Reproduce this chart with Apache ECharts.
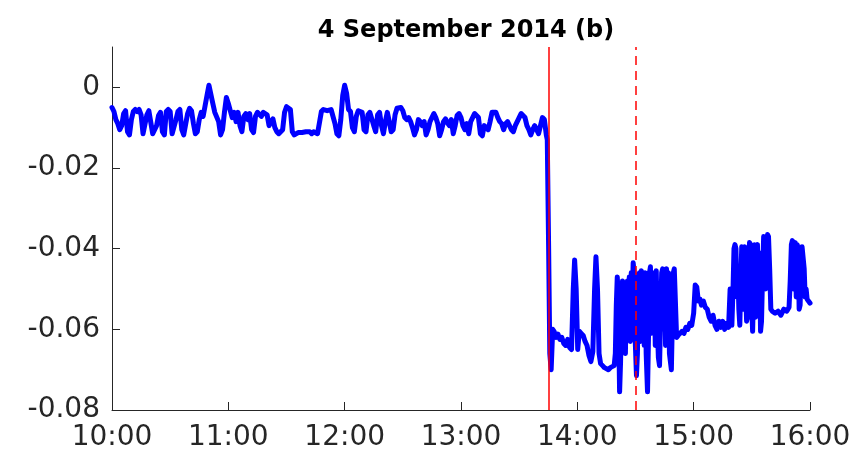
<!DOCTYPE html>
<html>
<head>
<meta charset="utf-8">
<script src="https://cdn.jsdelivr.net/npm/echarts@6/dist/echarts.min.js"></script>
<style>
  html, body { margin: 0; padding: 0; background: #ffffff; }
  #chart { width: 856px; height: 452px; }
</style>
</head>
<body>
<div id="chart"></div>
<script>
// Signal recorded on 4 September 2014, 10:00 to 16:00.
// Time is given in minutes after 10:00.
const minutes = [
  0, 1, 2, 3, 4, 5, 6, 7, 8, 9, 10, 11, 12, 13, 14, 15, 16, 17, 18, 19,
  20, 21, 22, 23, 24, 25, 26, 27, 28, 29, 30, 31, 32, 33, 34, 35, 36, 37, 38, 39,
  40, 41, 42, 43, 44, 45, 46, 47, 48, 49, 50, 51, 52, 53, 54, 55, 56, 57, 58, 59,
  60, 61, 62, 63, 64, 65, 66, 67, 68, 69, 70, 71, 72, 73, 74, 75, 76, 77, 78, 79,
  80, 81, 82, 83, 84, 85, 86, 87, 88, 89, 90, 91, 92, 93, 94, 95, 96, 97, 98, 99,
  100, 101, 102, 103, 104, 105, 106, 107, 108, 109, 110, 111, 112, 113, 114, 115, 116, 117, 118, 119,
  120, 121, 122, 123, 124, 125, 126, 127, 128, 129, 130, 131, 132, 133, 134, 135, 136, 137, 138, 139,
  140, 141, 142, 143, 144, 145, 146, 147, 148, 149, 150, 151, 152, 153, 154, 155, 156, 157, 158, 159,
  160, 161, 162, 163, 164, 165, 166, 167, 168, 169, 170, 171, 172, 173, 174, 175, 176, 177, 178, 179,
  180, 181, 182, 183, 184, 185, 186, 187, 188, 189, 190, 191, 192, 193, 194, 195, 196, 197, 198, 199,
  200, 201, 202, 203, 204, 205, 206, 207, 208, 209, 210, 211, 212, 213, 214, 215, 216, 217, 218, 219,
  220, 221, 222, 223, 224, 224.5, 225.2, 225.8, 226.5, 227.3, 228, 229, 230, 231, 232, 233, 234, 235, 236, 237,
  237.9, 238.6, 239.4, 240.2, 241, 242, 243, 244, 245, 246, 247, 248, 248.9, 249.6, 250.4, 251.2, 252, 253, 254, 255,
  256, 257, 258, 259, 259.6, 260.1, 260.6, 261.1, 261.8, 262.3, 262.8, 263.3, 263.8, 264.3, 264.8, 265.3, 265.8, 266.3, 266.8, 267.3,
  267.8, 268.3, 268.8, 269.3, 269.8, 270.5, 271, 271.5, 272, 272.5, 273, 273.5, 274, 274.5, 275, 275.5, 276.2, 276.7, 277.2, 277.7,
  278.2, 278.7, 279.2, 279.7, 280.2, 280.7, 281.2, 281.8, 282.4, 283, 283.5, 284, 284.5, 285, 285.5, 286, 286.5, 287, 287.5, 288.5,
  289, 289.5, 290, 290.5, 291.2, 292, 293, 294, 295, 296, 297, 298, 299, 300, 300.8, 301.6, 302.4, 303.2, 304, 305,
  306, 307, 308, 309, 310, 311, 312, 313, 314, 315, 316, 317, 318, 318.8, 319.3, 319.7, 320.3, 320.8, 321.3, 321.8,
  322.3, 322.8, 323.3, 323.8, 324.3, 324.8, 325.3, 325.8, 326.3, 326.8, 327.3, 327.8, 328.3, 328.8, 329.3, 329.8, 330.4, 330.9, 331.4, 331.9,
  332.4, 332.9, 333.4, 333.9, 334.5, 335, 335.6, 336.1, 336.6, 337.1, 337.6, 338.1, 338.6, 339.2, 339.8, 340.5, 342, 343.5, 345, 346.5,
  348, 349.2, 349.8, 350.4, 350.9, 351.4, 351.9, 352.4, 352.9, 353.4, 353.9, 354.4, 354.9, 355.4, 355.9, 356.4, 357, 357.5, 358, 358.5,
  359.2, 360
];

const values = [
  -0.0050, -0.0060, -0.0080, -0.0090, -0.0105, -0.0095, -0.0065, -0.0058, -0.0110, -0.0118, -0.0080, -0.0060, -0.0055, -0.0060, -0.0055, -0.0068, -0.0115, -0.0118, -0.0068, -0.0058,
  -0.0055, -0.0115, -0.0118, -0.0095, -0.0070, -0.0062, -0.0110, -0.0118, -0.0060, -0.0055, -0.0060, -0.0115, -0.0118, -0.0080, -0.0060, -0.0055, -0.0105, -0.0118, -0.0115, -0.0065,
  -0.0052, -0.0058, -0.0090, -0.0115, -0.0110, -0.0080, -0.0062, -0.0072, -0.0068, -0.0020, 0.0005, 0.0002, -0.0040, -0.0062, -0.0058, -0.0085, -0.0118, -0.0105, -0.0062, -0.0025,
  -0.0040, -0.0058, -0.0075, -0.0062, -0.0085, -0.0062, -0.0095, -0.0110, -0.0072, -0.0065, -0.0080, -0.0065, -0.0105, -0.0112, -0.0072, -0.0062, -0.0065, -0.0072, -0.0062, -0.0060,
  -0.0068, -0.0095, -0.0085, -0.0078, -0.0100, -0.0110, -0.0115, -0.0112, -0.0105, -0.0062, -0.0048, -0.0048, -0.0055, -0.0110, -0.0118, -0.0118, -0.0112, -0.0115, -0.0112, -0.0108,
  -0.0110, -0.0112, -0.0110, -0.0115, -0.0110, -0.0112, -0.0115, -0.0112, -0.0060, -0.0055, -0.0055, -0.0058, -0.0055, -0.0055, -0.0058, -0.0090, -0.0115, -0.0120, -0.0080, -0.0020,
  0.0005, -0.0015, -0.0055, -0.0060, -0.0100, -0.0110, -0.0072, -0.0058, -0.0058, -0.0062, -0.0105, -0.0110, -0.0068, -0.0062, -0.0065, -0.0095, -0.0110, -0.0068, -0.0062, -0.0095,
  -0.0115, -0.0085, -0.0062, -0.0085, -0.0110, -0.0105, -0.0068, -0.0052, -0.0048, -0.0050, -0.0058, -0.0075, -0.0080, -0.0075, -0.0085, -0.0100, -0.0118, -0.0105, -0.0080, -0.0085,
  -0.0095, -0.0085, -0.0118, -0.0105, -0.0085, -0.0075, -0.0065, -0.0075, -0.0090, -0.0120, -0.0105, -0.0085, -0.0078, -0.0088, -0.0095, -0.0080, -0.0115, -0.0095, -0.0070, -0.0065,
  -0.0075, -0.0095, -0.0105, -0.0090, -0.0115, -0.0085, -0.0075, -0.0065, -0.0062, -0.0075, -0.0115, -0.0120, -0.0095, -0.0095, -0.0105, -0.0085, -0.0062, -0.0058, -0.0062, -0.0075,
  -0.0085, -0.0090, -0.0105, -0.0090, -0.0085, -0.0095, -0.0105, -0.0110, -0.0095, -0.0085, -0.0075, -0.0065, -0.0062, -0.0075, -0.0095, -0.0105, -0.0118, -0.0105, -0.0095, -0.0105,
  -0.0115, -0.0095, -0.0075, -0.0080, -0.0118, -0.0130, -0.0400, -0.0660, -0.0700, -0.0600, -0.0605, -0.0620, -0.0612, -0.0625, -0.0620, -0.0635, -0.0640, -0.0625, -0.0645, -0.0650,
  -0.0500, -0.0428, -0.0500, -0.0650, -0.0605, -0.0610, -0.0615, -0.0630, -0.0640, -0.0665, -0.0680, -0.0655, -0.0500, -0.0420, -0.0500, -0.0660, -0.0685, -0.0690, -0.0695, -0.0695,
  -0.0700, -0.0695, -0.0695, -0.0690, -0.0660, -0.0540, -0.0470, -0.0520, -0.0755, -0.0680, -0.0560, -0.0480, -0.0490, -0.0630, -0.0660, -0.0500, -0.0480, -0.0590, -0.0470, -0.0630,
  -0.0460, -0.0530, -0.0435, -0.0460, -0.0620, -0.0715, -0.0660, -0.0470, -0.0460, -0.0630, -0.0455, -0.0580, -0.0460, -0.0640, -0.0460, -0.0660, -0.0755, -0.0620, -0.0460, -0.0445,
  -0.0610, -0.0470, -0.0600, -0.0460, -0.0640, -0.0455, -0.0580, -0.0670, -0.0690, -0.0560, -0.0460, -0.0450, -0.0600, -0.0460, -0.0640, -0.0450, -0.0620, -0.0460, -0.0660, -0.0700,
  -0.0580, -0.0460, -0.0450, -0.0520, -0.0620, -0.0615, -0.0610, -0.0605, -0.0610, -0.0595, -0.0600, -0.0585, -0.0590, -0.0560, -0.0490, -0.0495, -0.0530, -0.0525, -0.0540, -0.0530,
  -0.0545, -0.0550, -0.0570, -0.0580, -0.0565, -0.0590, -0.0600, -0.0580, -0.0595, -0.0580, -0.0600, -0.0585, -0.0595, -0.0500, -0.0505, -0.0590, -0.0500, -0.0400, -0.0390, -0.0400,
  -0.0520, -0.0450, -0.0550, -0.0590, -0.0480, -0.0395, -0.0400, -0.0550, -0.0395, -0.0500, -0.0580, -0.0570, -0.0450, -0.0385, -0.0390, -0.0520, -0.0605, -0.0500, -0.0390, -0.0570,
  -0.0400, -0.0390, -0.0550, -0.0410, -0.0605, -0.0580, -0.0450, -0.0370, -0.0375, -0.0500, -0.0400, -0.0365, -0.0370, -0.0450, -0.0550, -0.0555, -0.0560, -0.0555, -0.0565, -0.0550,
  -0.0555, -0.0545, -0.0480, -0.0390, -0.0380, -0.0500, -0.0400, -0.0385, -0.0520, -0.0390, -0.0400, -0.0550, -0.0540, -0.0450, -0.0395, -0.0395, -0.0450, -0.0520, -0.0500, -0.0525,
  -0.0530, -0.0535
];

// Axis ticks and labels
const xTickMinutes = [0, 60, 120, 180, 240, 300, 360];
const xTickLabels = ['10:00', '11:00', '12:00', '13:00', '14:00', '15:00', '16:00'];
const yTickValues = [-0.08, -0.06, -0.04, -0.02, 0];
const yTickLabels = ['-0.08', '-0.06', '-0.04', '-0.02', '0'];

// Event markers: solid at the step change, dashed afterwards
const eventMinutes = [225, 270];

const chart = echarts.init(document.getElementById('chart'), null, { renderer: 'canvas' });

const axisColor = '#262626';
const seriesData = minutes.map((m, i) => [m, values[i]]);

chart.setOption({
  animation: false,
  backgroundColor: '#ffffff',
  title: {
    text: '4 September 2014 (b)',
    left: 461,
    textAlign: 'center',
    top: 14,
    textStyle: {
      fontFamily: 'DejaVu Sans',
      fontWeight: 'bold',
      fontSize: 24,
      color: '#000000'
    }
  },
  grid: { left: 112, right: 46, top: 47, bottom: 42, containLabel: false },
  xAxis: {
    type: 'value',
    min: 0,
    max: 360,
    interval: 60,
    axisLine: { show: true, onZero: false, lineStyle: { color: axisColor, width: 1 } },
    axisTick: { show: true, inside: true, length: 8, lineStyle: { color: axisColor } },
    splitLine: { show: false },
    axisLabel: {
      color: axisColor,
      fontFamily: 'DejaVu Sans',
      fontSize: 28,
      margin: 14,
      formatter: v => {
        const k = xTickMinutes.indexOf(Math.round(v));
        return k >= 0 ? xTickLabels[k] : '';
      }
    }
  },
  yAxis: {
    type: 'value',
    min: -0.08,
    max: 0.01,
    axisLine: { show: true, onZero: false, lineStyle: { color: axisColor, width: 1 } },
    axisTick: {
      show: true, inside: true, length: 8,
      customValues: yTickValues,
      lineStyle: { color: axisColor }
    },
    splitLine: { show: false },
    axisLabel: {
      color: axisColor,
      fontFamily: 'DejaVu Sans',
      fontSize: 28,
      margin: 12,
      customValues: yTickValues,
      formatter: v => {
        const k = yTickValues.findIndex(t => Math.abs(t - v) < 1e-9);
        return k >= 0 ? yTickLabels[k] : '';
      }
    }
  },
  series: [{
    type: 'line',
    data: seriesData,
    showSymbol: false,
    symbol: 'none',
    lineStyle: { color: '#0000ff', width: 5, join: 'round', cap: 'round' },
    markLine: {
      silent: true,
      symbol: 'none',
      label: { show: false },
      animation: false,
      data: [
        { xAxis: eventMinutes[0], lineStyle: { color: '#ff0000', width: 1.5, type: 'solid' } },
        { xAxis: eventMinutes[1], lineStyle: { color: '#ff0000', width: 1.5, type: [9, 6] } }
      ]
    }
  }]
});
</script>
</body>
</html>
